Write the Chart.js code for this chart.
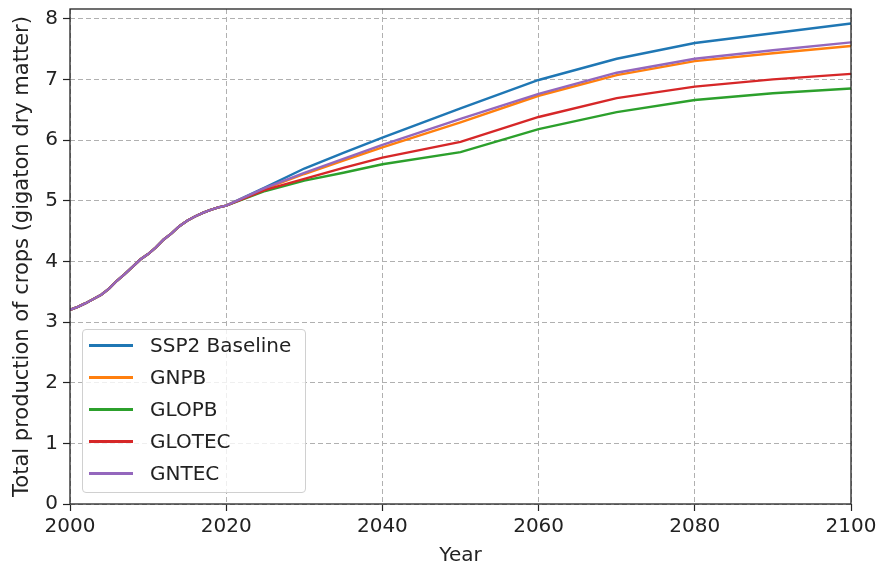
<!DOCTYPE html>
<html>
<head>
<meta charset="utf-8">
<script src="https://cdn.jsdelivr.net/npm/chart.js@4.4.0/dist/chart.umd.min.js"></script>
<style>
	html, body { margin: 0; padding: 0; background: #fff; }
	#wrap { position: relative; width: 878px; height: 566px; }
	#legend {
		position: absolute; left: 82px; top: 329px; width: 222px; height: 162px;
		border: 1px solid #d0d0d0; border-radius: 4px; background: rgba(255,255,255,0.8);
		font-family: "DejaVu Sans", sans-serif; font-size: 20px; color: #222;
	}
	#legend .row { position: absolute; left: 0; height: 24px; }
	#legend .swatch { position: absolute; left: 6px; top: 11px; width: 44px; height: 3px; }
	#legend .label { position: absolute; left: 67px; top: 0; white-space: nowrap; line-height: 24px; }
</style>
</head>
<body>
<div id="wrap">
	<canvas id="chart" width="878" height="566"></canvas>
	<div id="legend"></div>
</div>
<script>
// historical (shared by all scenarios)
var histYears = [2000, 2001, 2002, 2003, 2004, 2005, 2006, 2007, 2008, 2009, 2010,
	2011, 2012, 2013, 2014, 2015, 2016, 2017, 2018, 2019, 2020];
var histValues = [3.20, 3.25, 3.31, 3.38, 3.45, 3.55, 3.68, 3.79, 3.91, 4.03, 4.12,
	4.23, 4.36, 4.46, 4.58, 4.67, 4.74, 4.80, 4.85, 4.89, 4.92];

// projections
var futureYears = [2025, 2030, 2035, 2040, 2050, 2060, 2070, 2080, 2090, 2100];
var ssp2Values   = [5.22, 5.53, 5.79, 6.04, 6.52, 6.99, 7.34, 7.60, 7.76, 7.92];
var gnpbValues   = [5.20, 5.44, 5.66, 5.88, 6.29, 6.73, 7.07, 7.30, 7.43, 7.55];
var glopbValues  = [5.16, 5.33, 5.46, 5.60, 5.80, 6.18, 6.46, 6.66, 6.77, 6.85];
var glotecValues = [5.18, 5.36, 5.54, 5.71, 5.97, 6.38, 6.69, 6.88, 7.00, 7.09];
var gntecValues  = [5.21, 5.46, 5.69, 5.92, 6.35, 6.76, 7.11, 7.34, 7.48, 7.61];

var seriesNames = ['SSP2 Baseline', 'GNPB', 'GLOPB', 'GLOTEC', 'GNTEC'];
var seriesValues = [ssp2Values, gnpbValues, glopbValues, glotecValues, gntecValues];
var seriesColors = ['#1f77b4', '#ff7f0e', '#2ca02c', '#d62728', '#9467bd'];

var xTicks = [2000, 2020, 2040, 2060, 2080, 2100];

function toPoints(values) {
	var pts = [];
	histYears.forEach(function(y, i) { pts.push({ x: y, y: histValues[i] }); });
	futureYears.forEach(function(y, i) { pts.push({ x: y, y: values[i] }); });
	return pts;
}

var datasets = seriesNames.map(function(name, i) {
	return {
		label: name,
		data: toPoints(seriesValues[i]),
		borderColor: seriesColors[i],
		backgroundColor: seriesColors[i],
		borderWidth: 2.4,
		pointRadius: 0,
		tension: 0,
		order: seriesNames.length - i
	};
});

// legend (matplotlib style, inside the plot)
var $legend = document.getElementById('legend');
seriesNames.forEach(function(name, i) {
	var row = document.createElement('div');
	row.className = 'row';
	row.style.top = (3 + i * 32) + 'px';
	row.innerHTML = '<div class="swatch" style="background:' + seriesColors[i] + '"></div>' +
		'<div class="label">' + name + '</div>';
	$legend.appendChild(row);
});

var frame = {
	id: 'frame',
	afterDatasetsDraw: function(chart) {
		var a = chart.chartArea, ctx = chart.ctx;
		ctx.save();
		ctx.strokeStyle = '#222';
		ctx.lineWidth = 1.3;
		ctx.strokeRect(a.left, a.top, a.right - a.left, a.bottom - a.top);
		ctx.restore();
	}
};

var font = { family: '"DejaVu Sans", sans-serif', size: 20 };
var gridOpts = {
	color: '#b0b0b0', tickLength: 7,
	tickColor: '#222', tickBorderDash: [], tickWidth: 1.2
};

new Chart(document.getElementById('chart'), {
	type: 'line',
	data: { datasets: datasets },
	plugins: [frame],
	options: {
		responsive: false,
		animation: false,
		layout: { padding: { top: 9, right: 27, left: 0, bottom: 0 } },
		plugins: { legend: { display: false }, tooltip: { enabled: false } },
		scales: {
			x: {
				type: 'linear',
				min: 2000, max: 2100,
				afterFit: function(s) { s.height = 62; s.paddingLeft = 0; s.paddingRight = 0; },
				afterBuildTicks: function(s) { s.ticks = xTicks.map(function(v) { return { value: v }; }); },
				ticks: {
					color: '#222', font: font, padding: 4, maxRotation: 0,
					callback: function(v) { return String(v); }
				},
				grid: gridOpts,
				border: { display: false, dash: [5, 3] },
				title: {
					display: true, text: 'Year', color: '#222',
					font: { family: font.family, size: 20, lineHeight: 1 },
					padding: { top: 0, bottom: 0 }
				}
			},
			y: {
				min: 0, max: 8.16,
				afterFit: function(s) { s.width = 70; s.paddingTop = 0; s.paddingBottom = 0; },
				ticks: { stepSize: 1, includeBounds: false, color: '#222', font: font, padding: 5 },
				grid: gridOpts,
				border: { display: false, dash: [5, 3] },
				title: {
					display: true, text: 'Total production of crops (gigaton dry matter)', color: '#222',
					font: { family: font.family, size: 21, lineHeight: 1 },
					padding: { top: 12, bottom: 0 }
				}
			}
		}
	}
});
</script>
</body>
</html>
